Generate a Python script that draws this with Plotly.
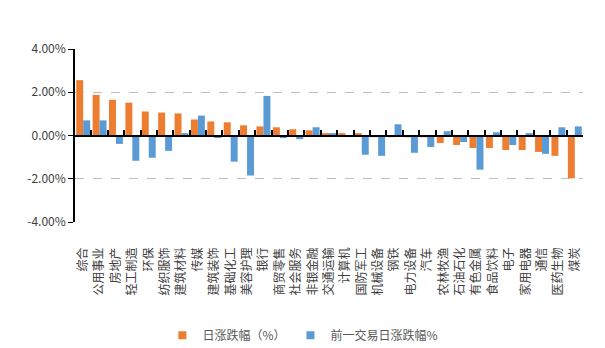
import plotly.graph_objects as go

categories = ["综合", "公用事业", "房地产", "轻工制造", "环保", "纺织服饰", "建筑材料", "传媒",
              "建筑装饰", "基础化工", "美容护理", "银行", "商贸零售", "社会服务", "非银金融", "交通运输",
              "计算机", "国防军工", "机械设备", "钢铁", "电力设备", "汽车", "农林牧渔", "石油石化",
              "有色金属", "食品饮料", "电子", "家用电器", "通信", "医药生物", "煤炭"]

today_pct = [2.56, 1.88, 1.65, 1.52, 1.11, 1.06, 1.02, 0.74, 0.65, 0.61, 0.47, 0.42, 0.38, 0.29,
             0.24, 0.11, 0.11, 0.11, -0.08, -0.08, -0.08, -0.08, -0.35, -0.44, -0.58, -0.58,
             -0.67, -0.67, -0.76, -0.94, -1.98]
prev_pct = [0.70, 0.70, -0.39, -1.17, -1.03, -0.71, 0.11, 0.92, -0.12, -1.21, -1.85, 1.83, -0.12,
            -0.17, 0.38, 0.11, 0.0, -0.89, -0.94, 0.52, -0.80, -0.53, 0.20, -0.30, -1.58, 0.15,
            -0.44, 0.11, -0.85, 0.38, 0.42]

series_names = ["日涨跌幅（%）", "前一交易日涨跌幅%"]
series_colors = ["#ED7D31", "#5B9BD5"]

y_ticks = [-4, -2, 0, 2, 4]
y_tick_text = ["-4.00%", "-2.00%", "0.00%", "2.00%", "4.00%"]

FONT = "Noto Sans CJK SC, Microsoft YaHei, sans-serif"

fig = go.Figure()
for name, vals, color in zip(series_names, [today_pct, prev_pct], series_colors):
    fig.add_trace(go.Bar(name=name, x=categories, y=vals, marker_color=color,
                         marker_line_width=0, showlegend=False))
# legend entries with small square swatches
for name, color in zip(series_names, series_colors):
    fig.add_trace(go.Scatter(name=name, x=[None], y=[None], mode="markers",
                             marker=dict(symbol="square", size=8, color=color),
                             showlegend=True, hoverinfo="skip"))
n = len(categories)
fig.add_trace(go.Scatter(x=list(range(n)), y=[0] * n, xaxis="x2", mode="markers",
                         marker_opacity=0, showlegend=False, hoverinfo="skip"))

fig.update_layout(
    width=605, height=348,
    margin=dict(l=75, r=22, t=49, b=126, autoexpand=False),
    paper_bgcolor="white", plot_bgcolor="white",
    font=dict(family=FONT, size=12, color="#404040"),
    barmode="group", bargap=0.15, bargroupgap=0,
    showlegend=True,
    legend=dict(orientation="h", x=0.172, xanchor="left", y=-0.655, yanchor="middle",
                font=dict(size=12, color="#595959"), itemclick=False),
    xaxis=dict(type="category", categoryorder="array", categoryarray=categories,
               showline=False, ticks="", showgrid=False,
               tickangle=-90, tickfont=dict(size=12, color="#404040"),
               ticklabelstandoff=22, range=[-0.5, n - 0.5], automargin=False),
    xaxis2=dict(overlaying="x", anchor="free", position=0.5, range=[-0.5, n - 0.5],
                showline=True, linecolor="black", linewidth=2, ticks="inside", ticklen=5,
                tickwidth=1.5, tickcolor="black",
                tickvals=[i - 0.5 for i in range(n + 1)], showticklabels=False, showgrid=False,
                zeroline=False),
    yaxis=dict(range=[-4, 4], tickvals=y_ticks, ticktext=y_tick_text, showline=True,
               linecolor="black", linewidth=1.5, ticks="outside", ticklen=5, tickcolor="black",
               showgrid=True, gridcolor="#BFBFBF", griddash="dash", gridwidth=1,
               zeroline=False, tickfont=dict(size=12, color="#404040"), automargin=False),
)

fig.write_html("out.html")
